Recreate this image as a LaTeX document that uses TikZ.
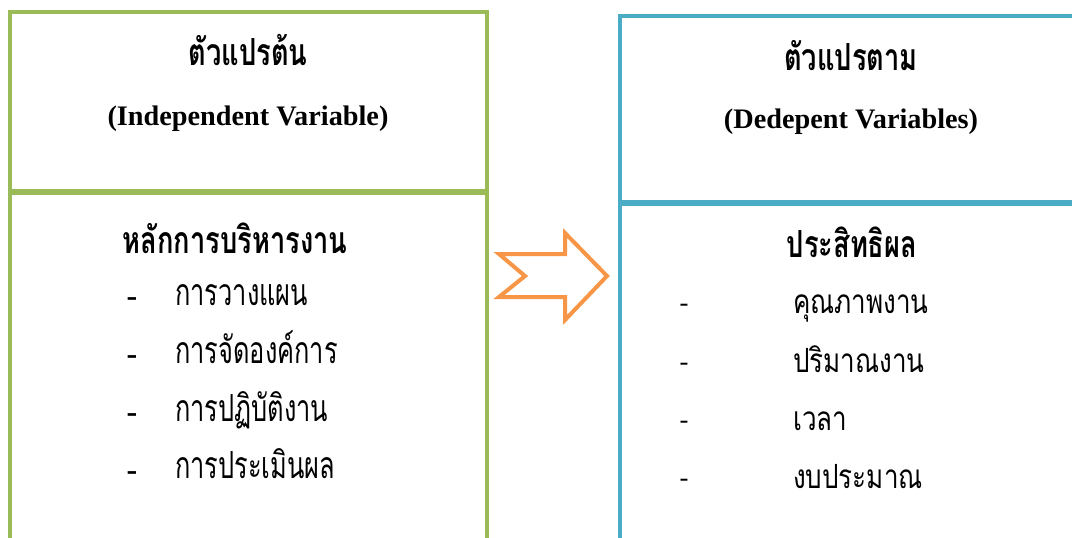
\documentclass[tikz,border=0pt]{standalone}
\usepackage{fontspec}
\setmainfont{Liberation Serif}
\newfontfamily\thaihead[Script=Thai,FakeStretch=0.73]{Loma}
\newfontfamily\thaileft[Script=Thai,FakeStretch=0.68]{Loma}
\newfontfamily\thairight[Script=Thai,FakeStretch=0.78]{Loma}
\definecolor{boxgreen}{HTML}{9BBB59}
\definecolor{boxblue}{HTML}{4BACC6}
\definecolor{arroworange}{HTML}{F79646}

\begin{document}
\begin{tikzpicture}[x=0.75pt, y=-0.75pt,
	gbox/.style={draw=boxgreen, line width=3pt},
	bbox/.style={draw=boxblue, line width=3pt},
	thead/.style={anchor=base, inner sep=0pt, font=\thaihead\bfseries\fontsize{28}{32}\selectfont},
	ehead/.style={anchor=base, inner sep=0pt, font=\bfseries\fontsize{21.2}{25}\selectfont},
	litem/.style={anchor=base west, inner sep=0pt, font=\thaileft\fontsize{28}{32}\selectfont},
	ritem/.style={anchor=base west, inner sep=0pt, font=\thairight\fontsize{25}{29}\selectfont},
	lhyph/.style={anchor=base, inner sep=0pt, font=\bfseries\fontsize{24}{28}\selectfont},
	rhyph/.style={anchor=base, inner sep=0pt, font=\fontsize{20}{24}\selectfont}]
	\clip (0,0) rectangle (1072,537);
	% left box
	\draw[gbox] (10,12) rectangle (487,191);
	\draw[gbox] (10,193) rectangle (487,600);
	\node[thead] (lhead) at (248,65) {ตัวแปรต้น};
	\node[ehead] (lsub) at (248,125) {(Independent Variable)};
	\node[thead] (ltopic) at (235,253) {หลักการบริหารงาน};
	\node[lhyph] (ld1) at (132,306) {-};
	\node[lhyph] (ld2) at (132,364) {-};
	\node[lhyph] (ld3) at (132,422) {-};
	\node[lhyph] (ld4) at (132,480) {-};
	\node[litem] (l1) at (175,305) {การวางแผน};
	\node[litem] (l2) at (175,363) {การจัดองค์การ};
	\node[litem] (l3) at (175,421) {การปฏิบัติงาน};
	\node[litem] (l4) at (175,478) {การประเมินผล};
	% arrow
	\draw[draw=arroworange, fill=white, line width=3pt] (499,254) -- (565,254) -- (565,233) -- (607,276)
		-- (565,320) -- (565,297) -- (499,297) -- (525,276) -- cycle;
	% right box
	\draw[bbox] (620,16) rectangle (1100,202);
	\draw[bbox] (620,204) rectangle (1100,600);
	\node[thead] (rhead) at (851,70) {ตัวแปรตาม};
	\node[ehead] (rsub) at (851,128) {(Dedepent Variables)};
	\node[thead] (rtopic) at (852,257) {ประสิทธิผล};
	\node[rhyph] (rd1) at (684,311) {-};
	\node[rhyph] (rd2) at (684,370) {-};
	\node[rhyph] (rd3) at (684,428) {-};
	\node[rhyph] (rd4) at (684,486) {-};
	\node[ritem] (r1) at (793,313) {คุณภาพงาน};
	\node[ritem] (r2) at (793,372) {ปริมาณงาน};
	\node[ritem] (r3) at (793,430) {เวลา};
	\node[ritem] (r4) at (793,488) {งบประมาณ};
\end{tikzpicture}
\end{document}
